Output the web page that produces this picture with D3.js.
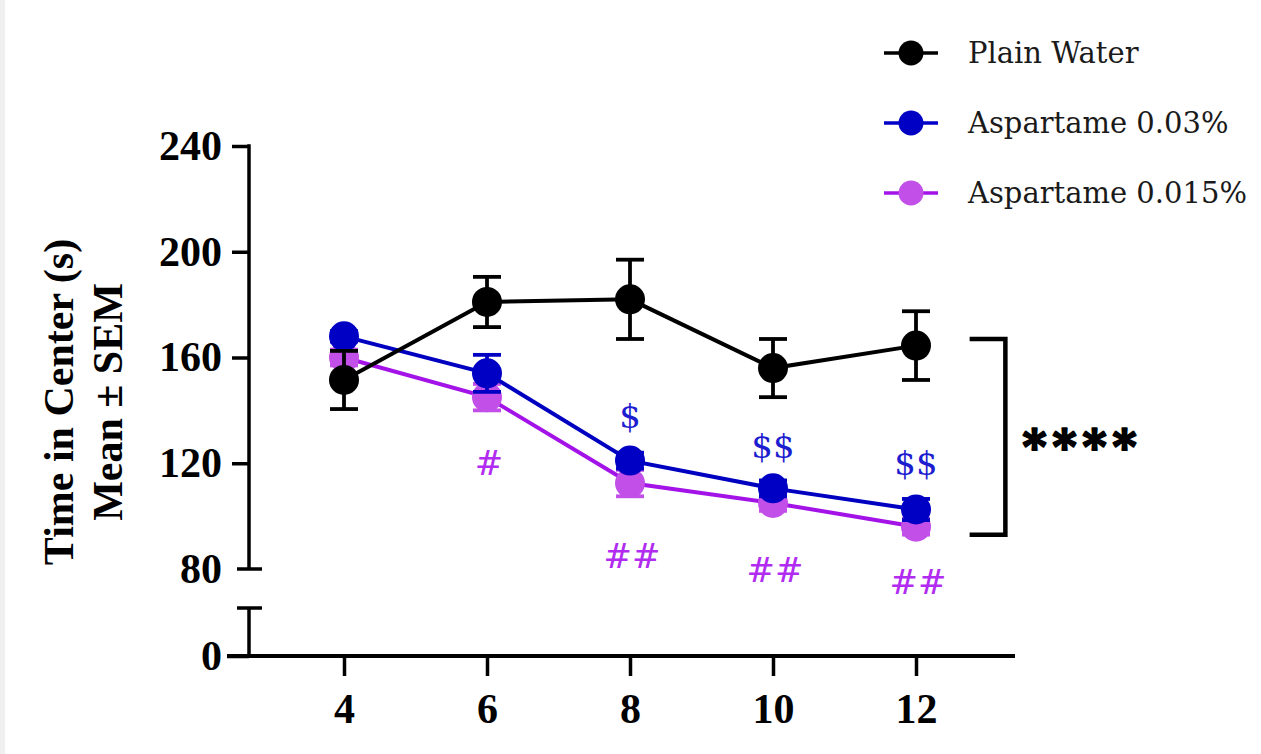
<!DOCTYPE html>
<html>
<head>
<meta charset="utf-8">
<script src="https://cdn.jsdelivr.net/npm/d3@7"></script>
<style>
	body { margin: 0; background: #efefef; }
	.axis text { font-family: 'Liberation Serif', serif; font-weight: bold; font-size: 42px; fill: #000; }
	.axis line { stroke: #000; stroke-width: 3.5; }
	.legend text { font-family: 'DejaVu Serif', serif; font-size: 29px; fill: #1a1a1a; }
	.sig { font-family: 'DejaVu Serif', serif; font-size: 34px; }
</style>
</head>
<body>
<div id="chart"></div>
<script>
'use strict';

// weeks of treatment
var weeks = [4, 6, 8, 10, 12];

// time in center (s), mean and SEM
var plainWater = [151.5, 181, 182, 156, 164.5];
var plainWaterSem = [11, 9.5, 15, 11, 13];
var aspartame003 = [168, 154, 121, 110.5, 102.5];
var aspartame003Sem = [2, 7, 3, 3, 4];
var aspartame0015 = [160, 145, 112.5, 105, 96];
var aspartame0015Sem = [3, 5, 5, 3, 3];

var seriesNames = ['Plain Water', 'Aspartame 0.03%', 'Aspartame 0.015%'];

// y axis ticks, split by the axis break
var yTicksTop = [80, 120, 160, 200, 240];
var yTicksLow = [0];

// significance marks (vs plain water)
var dollarWeeks = [8, 10, 12];
var dollarLabels = ['$', '$$', '$$'];
var dollarLevels = [138, 126.5, 120];
var hashWeeks = [6, 8, 10, 12];
var hashLabels = ['#', '##', '##', '##'];
var hashLevels = [120, 85, 79.5, 75];

// overall comparison bracket
var bracketWeeks = [12.75, 13.25];
var bracketLevels = [167, 93];
var bracketLabel = '****';

var width = 1261;
var height = 754;
var axisX = 249;
var axisY = 656;

var svg = d3.select('#chart').append('svg')
	.attr('width', width)
	.attr('height', height);

svg.append('rect')
	.attr('x', 5)
	.attr('width', width - 5)
	.attr('height', height)
	.attr('fill', '#fff');

var x = d3.scaleLinear().domain([4, 12]).range([344, 916]);
var yTop = d3.scaleLinear().domain([80, 240]).range([569, 146]);
var yLow = d3.scaleLinear().domain([0, 20]).range([axisY, 608]);

// ---- y axis, upper part
var gTop = svg.append('g')
	.attr('class', 'axis')
	.attr('transform', 'translate(' + axisX + ',0)')
	.call(d3.axisLeft(yTop).tickValues(yTicksTop).tickSize(17).tickPadding(10).tickSizeOuter(0));
gTop.attr('font-size', null).attr('font-family', null);
gTop.select('.domain').remove();
gTop.selectAll('.tick').filter(function(d){ return d === 80; }).select('line').remove();

gTop.append('line')
	.attr('y1', yTop(240) - 1.75)
	.attr('y2', yTop(80));
gTop.append('line')
	.attr('x1', -12).attr('x2', 13)
	.attr('y1', yTop(80)).attr('y2', yTop(80));

// ---- y axis, lower part
var gLow = svg.append('g')
	.attr('class', 'axis')
	.attr('transform', 'translate(' + axisX + ',0)')
	.call(d3.axisLeft(yLow).tickValues(yTicksLow).tickSize(22).tickPadding(5).tickSizeOuter(0));
gLow.attr('font-size', null).attr('font-family', null);
gLow.select('.domain').remove();

gLow.append('line')
	.attr('y1', yLow(20))
	.attr('y2', yLow(0));
gLow.append('line')
	.attr('x1', -12).attr('x2', 13)
	.attr('y1', yLow(20)).attr('y2', yLow(20));

// ---- x axis
var gX = svg.append('g')
	.attr('class', 'axis')
	.attr('transform', 'translate(0,' + axisY + ')')
	.call(d3.axisBottom(x).tickValues(weeks).tickSize(20).tickPadding(17).tickSizeOuter(0));
gX.attr('font-size', null).attr('font-family', null);
gX.select('.domain').remove();
gX.append('line')
	.attr('x1', axisX - 22)
	.attr('x2', 1015)
	.style('stroke-width', 4);

// ---- y title
var title = svg.append('g')
	.attr('class', 'axis')
	.attr('transform', 'translate(0,402) rotate(-90)');
title.append('text')
	.attr('y', 73)
	.attr('text-anchor', 'middle')
	.text('Time in Center (s)');
title.append('text')
	.attr('y', 122)
	.attr('text-anchor', 'middle')
	.text('Mean \u00b1 SEM');

// ---- series
var series = [
	{ name: seriesNames[2], mean: aspartame0015, sem: aspartame0015Sem, line: '#a313e8', fill: '#c14fe8' },
	{ name: seriesNames[1], mean: aspartame003, sem: aspartame003Sem, line: '#0000c0', fill: '#0000c4' },
	{ name: seriesNames[0], mean: plainWater, sem: plainWaterSem, line: '#000', fill: '#000' }
];

var line = d3.line()
	.x(function(d){ return x(d.week); })
	.y(function(d){ return yTop(d.mean); });

series.forEach(function(s){
	var pts = weeks.map(function(w, i){ return { week: w, mean: s.mean[i], sem: s.sem[i] }; });
	var g = svg.append('g').attr('class', 'series');

	var err = g.selectAll('g.err').data(pts).enter().append('g')
		.attr('class', 'err')
		.attr('stroke', s.fill)
		.attr('stroke-width', 3.8);
	err.append('line')
		.attr('x1', function(d){ return x(d.week); })
		.attr('x2', function(d){ return x(d.week); })
		.attr('y1', function(d){ return yTop(d.mean + d.sem); })
		.attr('y2', function(d){ return yTop(d.mean - d.sem); });
	err.append('line')
		.attr('x1', function(d){ return x(d.week) - 14; })
		.attr('x2', function(d){ return x(d.week) + 14; })
		.attr('y1', function(d){ return yTop(d.mean + d.sem); })
		.attr('y2', function(d){ return yTop(d.mean + d.sem); });
	err.append('line')
		.attr('x1', function(d){ return x(d.week) - 14; })
		.attr('x2', function(d){ return x(d.week) + 14; })
		.attr('y1', function(d){ return yTop(d.mean - d.sem); })
		.attr('y2', function(d){ return yTop(d.mean - d.sem); });

	g.append('path')
		.datum(pts)
		.attr('d', line)
		.attr('fill', 'none')
		.attr('stroke', s.line)
		.attr('stroke-width', 4);

	g.selectAll('circle').data(pts).enter().append('circle')
		.attr('cx', function(d){ return x(d.week); })
		.attr('cy', function(d){ return yTop(d.mean); })
		.attr('r', 15)
		.attr('fill', s.fill);
});

// ---- significance marks
svg.selectAll('text.dollar').data(dollarWeeks).enter().append('text')
	.attr('class', 'sig dollar')
	.attr('x', function(d){ return x(d); })
	.attr('y', function(d, i){ return yTop(dollarLevels[i]); })
	.attr('dy', '0.35em')
	.attr('text-anchor', 'middle')
	.attr('fill', '#1d1dd0')
	.text(function(d, i){ return dollarLabels[i]; });

svg.selectAll('text.hash').data(hashWeeks).enter().append('text')
	.attr('class', 'sig hash')
	.attr('x', function(d){ return x(d) + 2; })
	.attr('y', function(d, i){ return yTop(hashLevels[i]); })
	.attr('dy', '0.35em')
	.attr('text-anchor', 'middle')
	.attr('fill', '#b12cf0')
	.text(function(d, i){ return hashLabels[i]; });

// ---- bracket
svg.append('path')
	.attr('d', 'M' + x(bracketWeeks[0]) + ',' + yTop(bracketLevels[0]) +
		'H' + x(bracketWeeks[1]) +
		'V' + yTop(bracketLevels[1]) +
		'H' + x(bracketWeeks[0]))
	.attr('fill', 'none')
	.attr('stroke', '#000')
	.attr('stroke-width', 4.5);

svg.append('text')
	.attr('x', x(bracketWeeks[1]) + 17)
	.attr('y', yTop(d3.mean(bracketLevels)))
	.attr('dy', '0.56em')
	.attr('font-family', "'DejaVu Serif', serif")
	.attr('font-weight', 'bold')
	.attr('font-size', 46)
	.attr('letter-spacing', 6)
	.attr('stroke', '#000')
	.attr('stroke-width', 2.2)
	.attr('stroke-linejoin', 'round')
	.text(bracketLabel);

// ---- legend
var legendRows = [
	{ name: seriesNames[0], line: '#000', fill: '#000' },
	{ name: seriesNames[1], line: '#0000c8', fill: '#0000c4' },
	{ name: seriesNames[2], line: '#a313e8', fill: '#c14fe8' }
];

var legend = svg.append('g')
	.attr('class', 'legend')
	.attr('transform', 'translate(911,53)');

var row = legend.selectAll('g').data(legendRows).enter().append('g')
	.attr('transform', function(d, i){ return 'translate(0,' + (i * 70) + ')'; });
row.append('line')
	.attr('x1', -27).attr('x2', 27)
	.attr('stroke', function(d){ return d.line; })
	.attr('stroke-width', 3.5);
row.append('circle')
	.attr('r', 12.5)
	.attr('fill', function(d){ return d.fill; });
row.append('text')
	.attr('x', 57)
	.attr('dy', '0.35em')
	.text(function(d){ return d.name; });
</script>
</body>
</html>
